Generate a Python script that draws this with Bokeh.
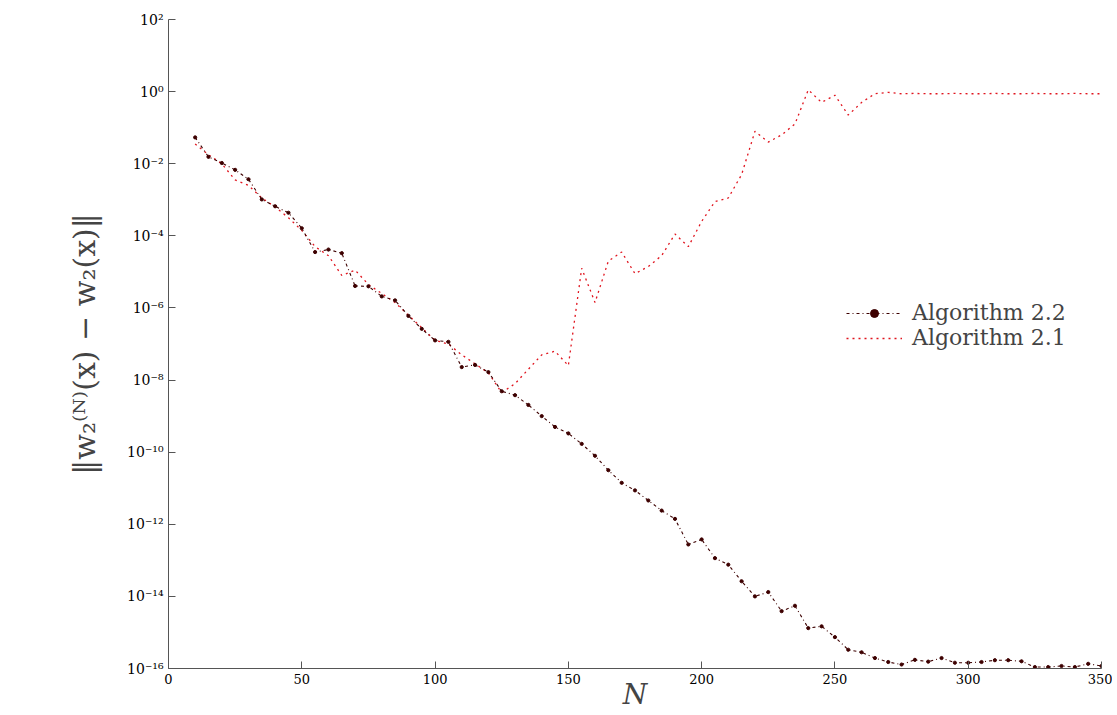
from bokeh.plotting import figure
from bokeh.models import Range1d, FixedTicker, Legend, LegendItem
from bokeh.embed import file_html
from bokeh.resources import INLINE

N = list(range(10, 351, 5))
log_alg22 = [-1.27,-1.81,-1.98,-2.17,-2.43,-2.99,-3.18,-3.36,-3.79,-4.45,-4.38,-4.48,-5.39,-5.40,-5.68,-5.79,
             -6.22,-6.58,-6.90,-6.94,-7.64,-7.58,-7.78,-8.31,-8.42,-8.69,-9.0,-9.30,-9.48,-9.77,-10.10,-10.50,
             -10.85,-11.06,-11.34,-11.62,-11.85,-12.56,-12.42,-12.94,-13.12,-13.58,-14.0,-13.88,-14.41,-14.26,
             -14.88,-14.83,-15.13,-15.48,-15.55,-15.71,-15.82,-15.89,-15.76,-15.81,-15.71,-15.84,-15.84,-15.82,
             -15.77,-15.77,-15.80,-15.96,-15.96,-15.93,-15.96,-15.87,-15.93]
log_alg21 = [-1.45,-1.75,-2.0,-2.45,-2.6,-2.95,-3.2,-3.5,-3.85,-4.3,-4.55,-5.1,-4.95,-5.35,-5.6,-5.85,
             -6.2,-6.55,-6.9,-7.0,-7.3,-7.55,-7.8,-8.35,-8.1,-7.7,-7.3,-7.2,-7.6,-4.9,-5.85,-4.7,
             -4.45,-5.05,-4.85,-4.55,-3.95,-4.3,-3.6,-3.05,-2.95,-2.3,-1.1,-1.4,-1.2,-0.9,
             0.05,-0.3,-0.1,-0.65,-0.3,-0.06,-0.02,-0.06,-0.05,-0.06,-0.06,-0.05,-0.06,-0.06,
             -0.05,-0.06,-0.06,-0.05,-0.06,-0.06,-0.05,-0.06,-0.06]
alg22 = [10**v for v in log_alg22]
alg21 = [10**v for v in log_alg21]
y_ticks = [-16, -14, -12, -10, -8, -6, -4, -2, 0, 2]
x_ticks = [0, 50, 100, 150, 200, 250, 300, 350]

sup = str.maketrans("-0123456789", "⁻⁰¹²³⁴⁵⁶⁷⁸⁹")
FONT = "DejaVu Serif"

p = figure(width=1112, height=713, y_axis_type="log", output_backend="svg", toolbar_location=None,
           x_range=Range1d(0, 350), y_range=Range1d(1e-16, 1e2),
           min_border_left=168, min_border_right=11, min_border_top=19, min_border_bottom=30)
p.outline_line_color = None
p.grid.visible = False

c22 = "#3d0000"
c21 = "#e0141e"
r21 = p.line(N, alg21, line_color=c21, line_dash="2 4", line_width=1.3)
r22 = p.line(N, alg22, line_color=c22, line_dash="3 3 1 3", line_width=1.1)
m22 = p.scatter(N, alg22, size=3.2, color=c22)

leg = Legend(items=[LegendItem(label="Algorithm 2.2", renderers=[r22, m22]),
                    LegendItem(label="Algorithm 2.1", renderers=[r21])],
             location=(678, 318), border_line_color=None, background_fill_alpha=0,
             label_text_font=FONT, label_text_font_size="22px", glyph_width=56,
             spacing=-6, padding=0, label_standoff=10)
p.add_layout(leg, "center")

p.yaxis.ticker = FixedTicker(ticks=[10.0**t for t in y_ticks])
p.yaxis.major_label_overrides = {10.0**t: "10" + str(t).translate(sup) for t in y_ticks}
p.xaxis.ticker = FixedTicker(ticks=x_ticks)
for ax in (p.xaxis, p.yaxis):
    ax.major_tick_in = 7
    ax.major_tick_out = 0
    ax.minor_tick_line_color = None
    ax.axis_line_color = "#555555"
    ax.major_tick_line_color = "#555555"
    ax.major_label_text_font = FONT
    ax.major_label_text_font_size = "13px"
    ax.major_label_text_color = "black"
    ax.axis_label_text_font = FONT
p.yaxis.major_label_text_font_size = "14px"
p.xaxis.axis_label = "N"
p.xaxis.axis_label_text_font_style = "italic"
p.xaxis.axis_label_text_font_size = "28px"
p.xaxis.axis_label_standoff = -9
p.yaxis.axis_label = "‖w₂⁽ᴺ⁾(x) − w₂(x)‖"
p.yaxis.axis_label_text_font_style = "normal"
p.yaxis.axis_label_text_font_size = "30px"
p.yaxis.axis_label_standoff = 22

open("out.html", "w").write(file_html(p, INLINE))
